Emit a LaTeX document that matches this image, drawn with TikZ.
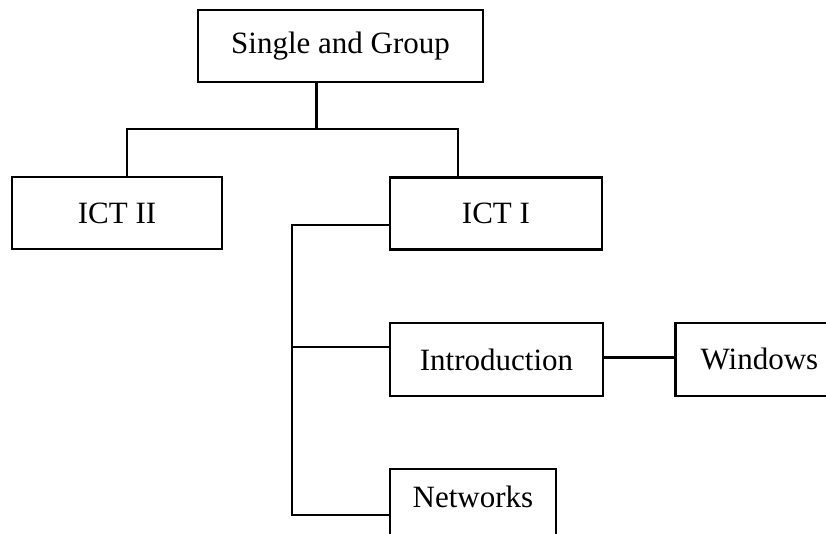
\documentclass[tikz,border=0pt]{standalone}
\usepackage{fontspec}
\setmainfont{Liberation Serif}
\usepackage{tikz}
\usetikzlibrary{positioning}

\begin{document}
\begin{tikzpicture}[
    x=0.5pt, y=-0.5pt,
    block/.style = {draw, line width=1.2pt, minimum height=36pt, inner sep=0pt,
                    font=\fontsize{15.5pt}{18pt}\selectfont},
    link/.style = {line width=1.2pt}
  ]

  % Page frame
  \useasboundingbox (0,0) rectangle (826,534);

  % Top block
  \node[block, minimum width=142.5pt] (sg) at (340.5,46) {Single and Group};

  % Second row
  \node[block, minimum width=105pt] (ict2) at (117,213) {ICT II};
  \node[block, minimum width=106pt] (ict1) at (496,213.5) {ICT I};

  % Topics of ICT I
  \node[block, minimum width=106.5pt, minimum height=36.5pt,
        below right=35.5pt and 0pt of ict1.south west] (intro) {Introduction};
  \node[block, minimum width=84pt, minimum height=36.5pt,
        right=35pt of intro] (windows) {Windows};
  \node[block, minimum width=83pt, text depth=9pt,
        below right=35.5pt and 0pt of intro.south west] (networks) {Networks};

  % Stem under the top block
  \draw[link]
    ([xshift=-12pt]sg.south) --
    ++(0,-23pt) coordinate (split);

  % Branch to ICT II and ICT I
  \draw[link]
    ([xshift=5pt]ict2.north) |-
    (split) -|
    ([xshift=-19pt]ict1.north);

  % Trunk from ICT I down to Networks
  \draw[link]
    ([yshift=-5.75pt]ict1.west) --
    ++(-48.5pt,0) |-
    ([yshift=-5pt]networks.west);

  % Branch to Introduction
  \draw[link]
    ([yshift=6.25pt]intro.west) --
    ++(-48.5pt,0);

  % Introduction to Windows
  \draw[link]
    ([yshift=1pt]intro.east) --
    ([yshift=1pt]intro.east -| windows.west);

\end{tikzpicture}
\end{document}
